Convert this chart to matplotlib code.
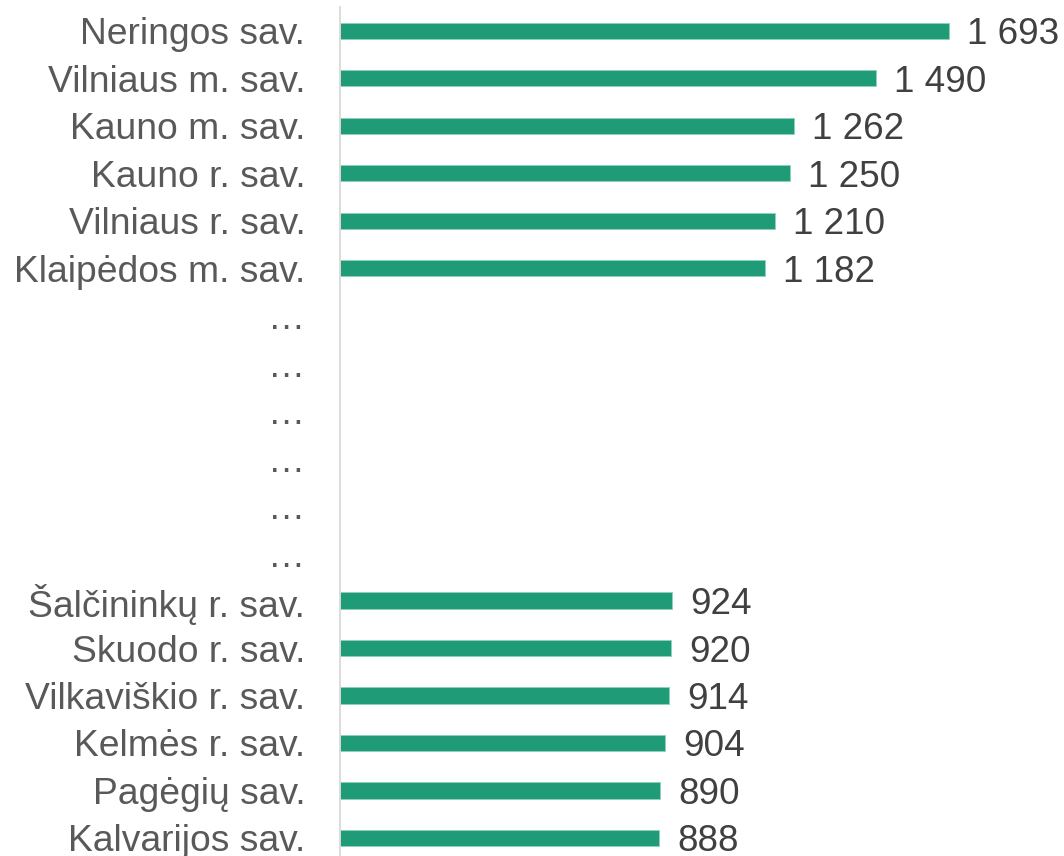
import matplotlib
matplotlib.use("Agg")
import matplotlib.pyplot as plt

categories = ["Neringos sav.", "Vilniaus m. sav.", "Kauno m. sav.", "Kauno r. sav.",
              "Vilniaus r. sav.", "Klaipėdos m. sav.", "…", "…", "…", "…", "…", "…",
              "Šalčininkų r. sav.", "Skuodo r. sav.", "Vilkaviškio r. sav.",
              "Kelmės r. sav.", "Pagėgių sav.", "Kalvarijos sav."]
values = [1693, 1490, 1262, 1250, 1210, 1182, None, None, None, None, None, None,
          924, 920, 914, 904, 890, 888]

W, H = 1064, 856
fig = plt.figure(figsize=(W / 100, H / 100), dpi=100)
ax = fig.add_axes([340 / W, 0, (W - 340) / W, 1 - 7 / H])

bar_color = "#1F9B77"
for i, v in enumerate(values):
    if v is None:
        continue
    ax.barh(i, v, height=0.34, color=bar_color, edgecolor="#8FD3BC", linewidth=0.6)
    lbl = f"{v:,}".replace(",", " ")
    ax.text(v + 50, i, lbl, va="center_baseline", ha="left", fontsize=26.6,
            color="#404040", family="Liberation Sans")

ax.set_xlim(0, (W - 340) / 0.3597)
ax.set_ylim(17.38, -0.5)
ax.set_yticks(range(len(categories)))
ax.set_yticklabels(categories, fontsize=26.8, color="#595959", family="Liberation Sans",
                   va="center_baseline")
ax.tick_params(axis="y", length=0, pad=25)
ax.set_xticks([])
for s in ["top", "right", "bottom"]:
    ax.spines[s].set_visible(False)
ax.spines["left"].set_color("#D9D9D9")
ax.spines["left"].set_linewidth(1.3)
ax.patch.set_alpha(0)

fig.savefig("out.png", dpi=100)
